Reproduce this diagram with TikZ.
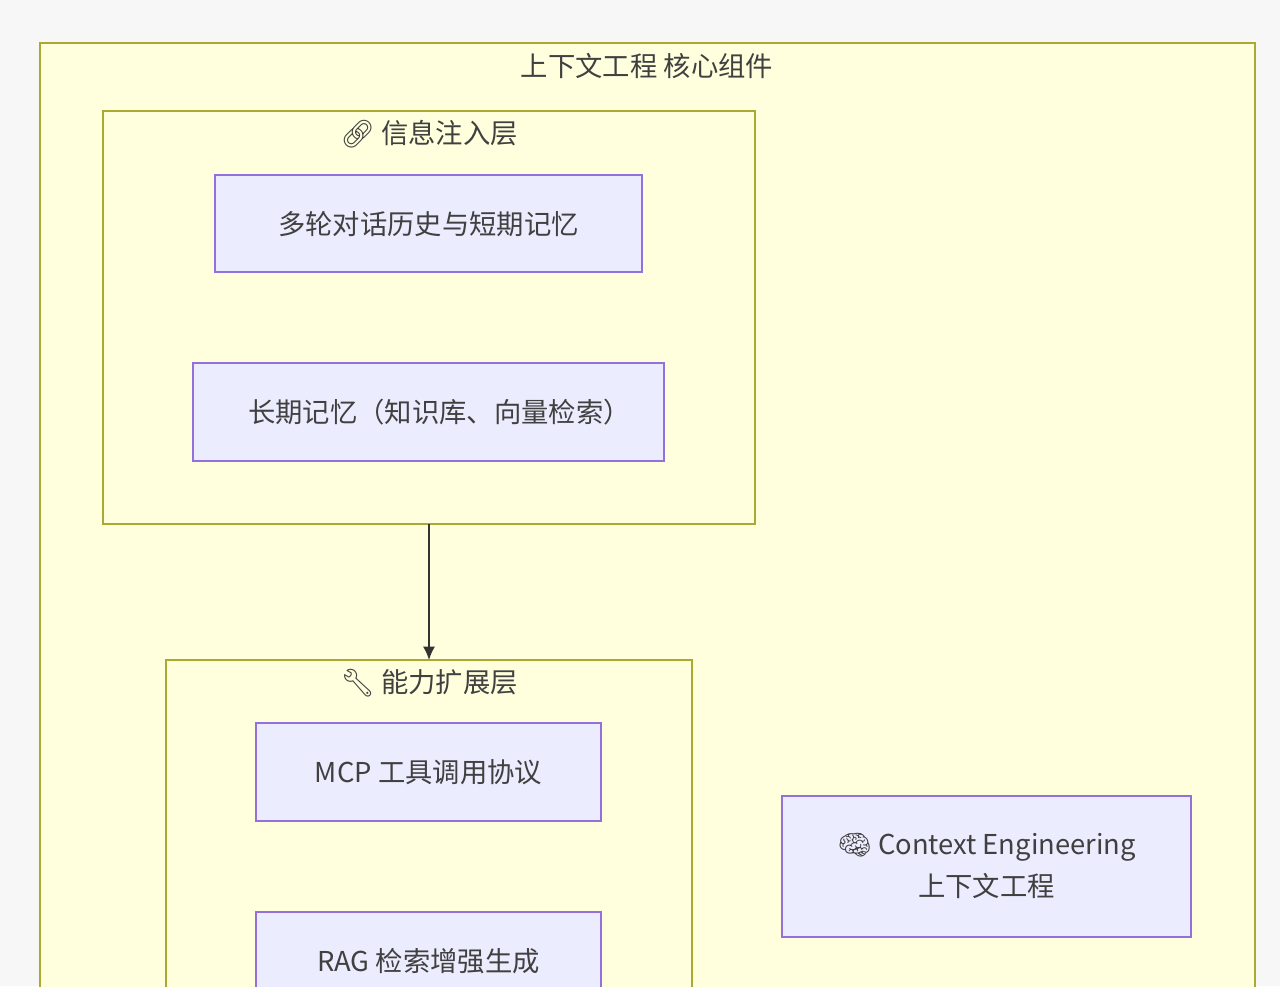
\documentclass[tikz,border=0pt]{standalone}
\usepackage{fontspec}
\usetikzlibrary{arrows.meta}
\setmainfont{Noto Sans CJK SC}
\newfontfamily\emo{Noto Emoji}
\begin{document}
\begin{tikzpicture}[x=0.75pt,y=-0.75pt,
  lbl/.style={font=\fontsize{20.5}{31.5}\selectfont,text=black!75}]
\definecolor{gb}{HTML}{AAAA33}\definecolor{gf}{HTML}{FFFFDE}
\definecolor{nb}{HTML}{9370DB}\definecolor{nf}{HTML}{ECECFF}
\tikzset{grp/.style={draw=gb,fill=gf,line width=1pt},nd/.style={draw=nb,fill=nf,line width=1pt}}
\useasboundingbox (0,0) rectangle (1280,986);
\clip (0,0) rectangle (1280,986);
\fill[black!3] (0,0) rectangle (1280,986);
\draw[grp] (40,43) rectangle (1255,1000);
\node[lbl] (t0) at (647,66) {上下文工程 核心组件};
\draw[grp] (103,111) rectangle (755,524);
\coordinate (g1b) at (429,524);
\node[lbl] (t1) at (429,134) {{\emo 🔗} 信息注入层};
\draw[nd] (215,175) rectangle (642,272);
\node[lbl] (n1) at (428.5,224) {多轮对话历史与短期记忆};
\draw[nd] (193,363) rectangle (664,461);
\begin{scope}
\clip (193,363) rectangle (612,461);
\node[lbl,anchor=west,inner sep=0pt] (n2) at (248,412) {长期记忆（知识库、向量检索）};
\end{scope}
\draw[grp] (166,660) rectangle (692,1000);
\coordinate (g2t) at (429,660);
\node[lbl] (t2) at (429,683) {{\emo 🔧} 能力扩展层};
\draw[nd] (256,723) rectangle (601,821);
\node[lbl] (n3) at (428.5,772) {MCP 工具调用协议};
\draw[nd] (256,912) rectangle (601,1010);
\node[lbl] (n4) at (428.5,961) {RAG 检索增强生成};
\draw[nd] (782,796) rectangle (1191,937);
\node[lbl,align=center] (n5) at (986.5,866) {{\emo 🧠} Context Engineering\\上下文工程};
\draw[line width=1.2pt,black!80,-{Latex[length=10pt,width=9pt]}] (g1b) -- (g2t);
\end{tikzpicture}
\end{document}
